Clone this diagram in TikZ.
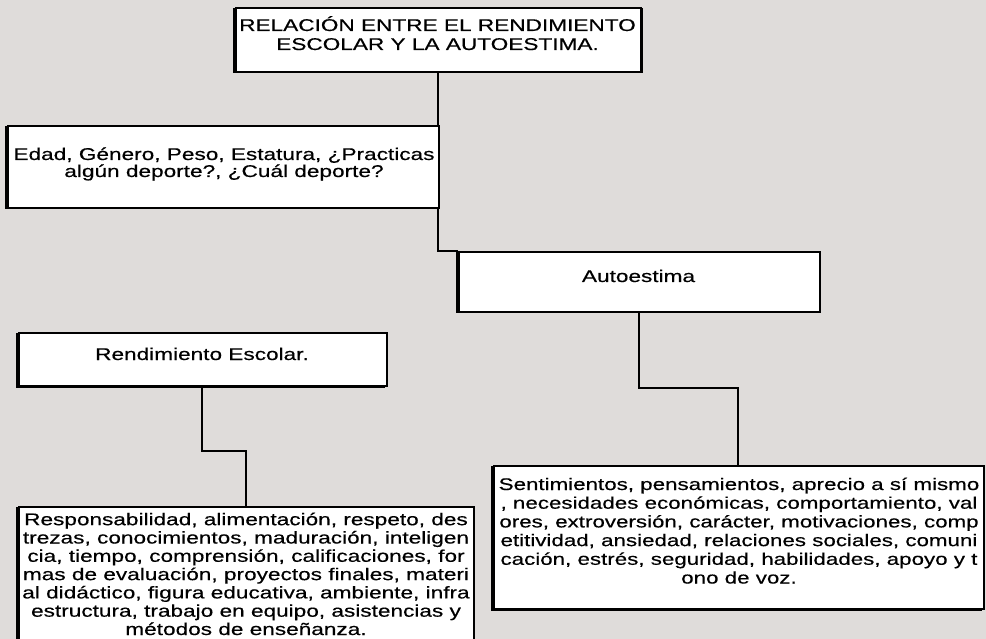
\documentclass[tikz,border=0pt]{standalone}
\usepackage{fontspec}
\setmainfont{Liberation Sans}[FakeStretch=1.33,FakeBold=0.4]
\usetikzlibrary{calc}
\definecolor{bg}{RGB}{223,220,218}
\tikzset{
 box/.style={draw=black, line width=1.6pt, fill=white, anchor=north west, inner sep=0pt},
 shade/.style={fill=black},
 txt/.style={align=center, anchor=base, inner sep=0pt, font=\fontsize{17}{18.7}\selectfont},
 conn/.style={line width=2pt, draw=black}
}
\begin{document}
\begin{tikzpicture}[x=1pt,y=-1pt]
\fill[bg] (0,0) rectangle (986,639);
\useasboundingbox (0,0) rectangle (986,639);
% box positions
\coordinate (tNW) at (235,7);
\coordinate (eNW) at (7,125);
\coordinate (aNW) at (458,251);
\coordinate (rNW) at (18,332);
\coordinate (lNW) at (18,506);
\coordinate (dNW) at (493,465);
\path (tNW) ++(202.5,64) coordinate (tS);
\path (aNW) ++(180.5,60) coordinate (aS);
\path (rNW) ++(184,53) coordinate (rS);
\path (lNW) ++(227.5,0) coordinate (lN);
\path (dNW) ++(245,0) coordinate (dN);
\coordinate (m1) at ($(aS)!0.5!(dN)$);
\path (rS) ++(0,66) coordinate (m2);
% connectors (below boxes)
\draw[conn] (tS) |- (aNW);
\draw[conn] (aS) |- (m1) -| (dN);
\draw[conn] (rS) -- (m2) -| (lN);
% shadows
\fill[shade] (232.5,8) rectangle (642.5,73.5);
\fill[shade] (4.5,126) rectangle (436.5,209.5);
\fill[shade] (455.5,252) rectangle (817.5,313.5);
\fill[shade] (15.5,333) rectangle (384.5,387.5);
\fill[shade] (15.5,507) rectangle (471.5,670);
\fill[shade] (490.5,466) rectangle (981.5,610.5);
% boxes
\node[box, minimum width=405pt, minimum height=64pt] (title) at (tNW) {};
\node[box, minimum width=431pt, minimum height=82pt] (edad) at (eNW) {};
\node[box, minimum width=361pt, minimum height=60pt] (auto) at (aNW) {};
\node[box, minimum width=368pt, minimum height=53pt] (rend) at (rNW) {};
\node[box, minimum width=455pt, minimum height=160pt] (left) at (lNW) {};
\node[box, minimum width=490pt, minimum height=143pt] (right) at (dNW) {};
% texts (base anchor = baseline of last line)
\node[txt, font=\fontsize{17}{19}\selectfont] (ttitle) at (437.5,50) {RELACIÓN ENTRE EL RENDIMIENTO\\ESCOLAR Y LA AUTOESTIMA.};
\node[txt, font=\fontsize{17}{17}\selectfont] (tedad) at (224,177) {Edad, Género, Peso, Estatura, ¿Practicas\\algún deporte?, ¿Cuál deporte?};
\node[txt] (tauto) at (638.5,282) {Autoestima};
\node[txt] (trend) at (202,360) {Rendimiento Escolar.};
\node[txt, font=\fontsize{17}{18.3}\selectfont] (tleft) at (246,635) {Responsabilidad, alimentación, respeto, des\\trezas, conocimientos, maduración, inteligen\\cia, tiempo, comprensión, calificaciones, for\\mas de evaluación, proyectos finales, materi\\al didáctico, figura educativa, ambiente, infra\\estructura, trabajo en equipo, asistencias y\\métodos de enseñanza.};
\node[txt, font=\fontsize{16.8}{18.7}\selectfont] (tright) at (739,583.5) {Sentimientos, pensamientos, aprecio a sí mismo\\, necesidades económicas, comportamiento, val\\ores, extroversión, carácter, motivaciones, comp\\etitividad, ansiedad, relaciones sociales, comuni\\cación, estrés, seguridad, habilidades, apoyo y t\\ono de voz.};
\end{tikzpicture}
\end{document}
